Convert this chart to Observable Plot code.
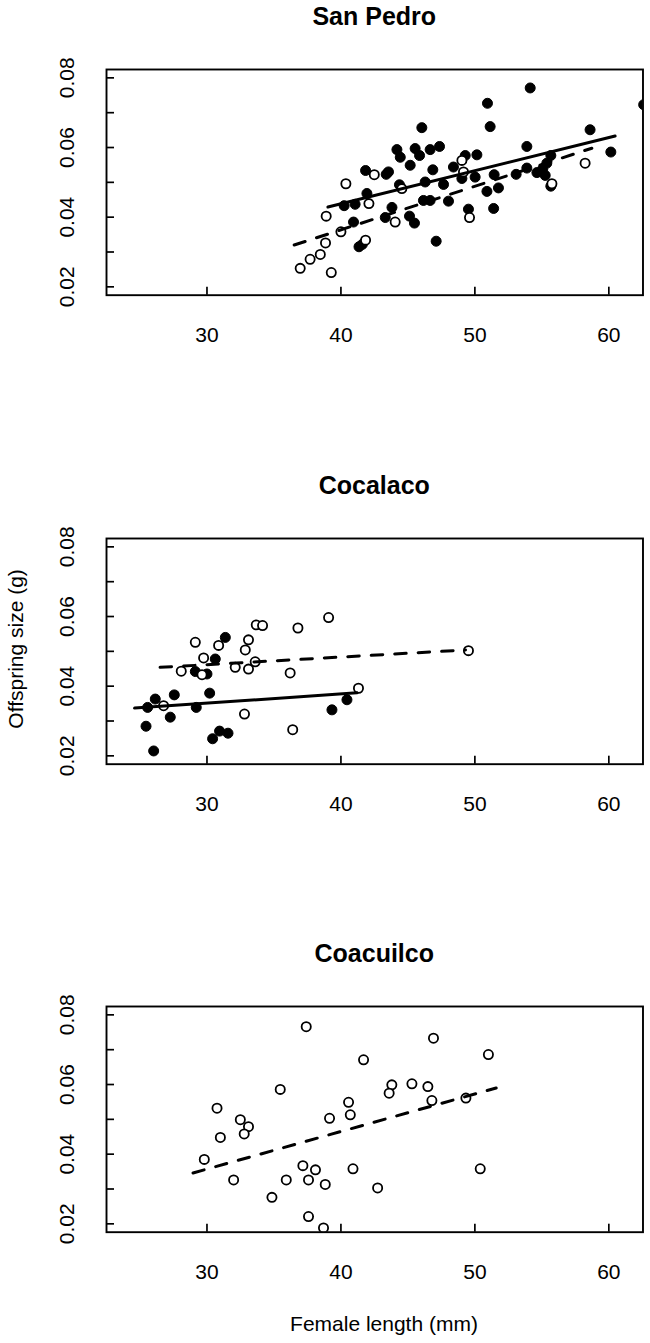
<!DOCTYPE html>
<html>
<head>
<meta charset="utf-8">
<script src="https://cdn.jsdelivr.net/npm/d3@7"></script>
<script src="https://cdn.jsdelivr.net/npm/@observablehq/plot@0.6"></script>
<style>
  html, body { margin: 0; padding: 0; background: #fff; }
  #chart { position: relative; width: 650px; height: 1343px; background: #fff; overflow: hidden;
           font-family: "Liberation Sans", Arial, Helvetica, sans-serif; color: #000; }
  #chart svg { position: absolute; left: 0; }
  .title { position: absolute; font-weight: bold; font-size: 25px; line-height: 25px; white-space: nowrap; transform: translateX(-50%); }
  .lab { position: absolute; font-size: 21px; line-height: 21px; white-space: nowrap; }
</style>
</head>
<body>
<div id="chart"></div>
<script>
// ---------- data ----------
const panelTitles = ["San Pedro", "Cocalaco", "Coacuilco"];
const xLabel = "Female length (mm)";
const yLabel = "Offspring size (g)";
const xTicks = [30, 40, 50, 60];
const yTicks = [0.02, 0.03, 0.04, 0.05, 0.06, 0.07, 0.08];
const yTickLabels = [0.02, 0.04, 0.06, 0.08];

// San Pedro
const sanPedroFilledX = [41.84, 41.94, 40.24, 41.06, 40.94, 41.35, 41.6, 54.13, 50.94, 51.14, 46.04, 62.6, 58.6, 60.15, 53.88, 53.88, 53.08, 54.63, 55.07, 55.37, 55.67, 55.25, 55.67, 51.44, 51.76, 50.9, 51.4, 50.15, 50.02, 49.28, 49.03, 49.52, 48.4, 48.03, 47.66, 47.11, 47.36, 46.66, 46.86, 46.66, 46.16, 46.29, 45.87, 45.54, 45.17, 45.12, 45.49, 44.18, 44.43, 44.37, 43.55, 43.38, 43.81, 43.31];
const sanPedroFilledY = [0.0534, 0.0468, 0.0433, 0.0437, 0.0386, 0.0315, 0.0322, 0.0771, 0.0727, 0.0660, 0.0657, 0.0723, 0.0651, 0.0587, 0.0603, 0.0541, 0.0523, 0.0528, 0.0539, 0.0555, 0.0577, 0.0520, 0.0489, 0.0522, 0.0484, 0.0474, 0.0425, 0.0579, 0.0515, 0.0577, 0.0511, 0.0423, 0.0544, 0.0446, 0.0494, 0.0331, 0.0603, 0.0594, 0.0536, 0.0448, 0.0448, 0.0501, 0.0577, 0.0597, 0.0549, 0.0403, 0.0383, 0.0594, 0.0572, 0.0493, 0.0530, 0.0523, 0.0428, 0.0399];
const sanPedroOpenX = [36.96, 37.7, 38.46, 38.85, 38.9, 39.28, 40.0, 40.37, 41.84, 42.09, 42.49, 44.55, 44.05, 49.03, 49.15, 49.6, 55.75, 58.23];
const sanPedroOpenY = [0.0253, 0.0279, 0.0293, 0.0326, 0.0403, 0.0241, 0.0358, 0.0496, 0.0334, 0.0439, 0.0522, 0.0482, 0.0386, 0.0563, 0.0530, 0.0399, 0.0496, 0.0555];
const sanPedroFitFilledX = [39.03, 60.47];
const sanPedroFitFilledY = [0.0429, 0.0633];
const sanPedroFitOpenX = [36.51, 58.73];
const sanPedroFitOpenY = [0.0320, 0.0598];

// Cocalaco
const cocalacoFilledX = [25.57, 26.14, 25.45, 26.02, 27.26, 27.56, 29.2, 29.13, 30.0, 30.2, 30.62, 31.37, 30.42, 30.94, 31.57, 39.33, 40.45];
const cocalacoFilledY = [0.0339, 0.0363, 0.0285, 0.0214, 0.0311, 0.0375, 0.0339, 0.0442, 0.0435, 0.0380, 0.0478, 0.0540, 0.0249, 0.0271, 0.0265, 0.0332, 0.0361];
const cocalacoOpenX = [29.13, 28.08, 29.75, 29.63, 30.87, 32.11, 32.86, 33.1, 33.1, 33.6, 33.68, 34.15, 26.76, 32.8, 36.21, 36.79, 36.4, 39.08, 49.52, 41.31];
const cocalacoOpenY = [0.0526, 0.0443, 0.0481, 0.0433, 0.0517, 0.0454, 0.0504, 0.0533, 0.0449, 0.0470, 0.0576, 0.0574, 0.0344, 0.0320, 0.0438, 0.0567, 0.0275, 0.0597, 0.0502, 0.0394];
const cocalacoFitFilledX = [24.6, 41.2];
const cocalacoFitFilledY = [0.0337, 0.0381];
const cocalacoFitOpenX = [26.5, 49.3];
const cocalacoFitOpenY = [0.0454, 0.0504];

// Coacuilco
const coacuilcoFilledX = [];
const coacuilcoFilledY = [];
const coacuilcoOpenX = [37.41, 41.69, 35.47, 30.75, 40.57, 40.7, 39.15, 32.49, 33.1, 32.78, 31.0, 29.8, 31.99, 34.85, 35.92, 37.16, 37.58, 38.1, 38.83, 37.58, 38.7, 40.9, 42.74, 46.91, 51.01, 43.8, 43.6, 45.3, 46.49, 46.79, 49.33, 50.4];
const coacuilcoOpenY = [0.0766, 0.0671, 0.0586, 0.0532, 0.0549, 0.0513, 0.0503, 0.0499, 0.0479, 0.0458, 0.0448, 0.0385, 0.0326, 0.0276, 0.0326, 0.0367, 0.0326, 0.0355, 0.0313, 0.0221, 0.0188, 0.0358, 0.0303, 0.0733, 0.0686, 0.0599, 0.0575, 0.0602, 0.0594, 0.0554, 0.0561, 0.0358];
const coacuilcoFitOpenX = [28.96, 51.59];
const coacuilcoFitOpenY = [0.0346, 0.0590];

// ---------- build ----------
const zip = (xs, ys) => xs.map((x, i) => ({x, y: ys[i]}));
const panels = [
  {filled: zip(sanPedroFilledX, sanPedroFilledY), open: zip(sanPedroOpenX, sanPedroOpenY),
   fitFilled: zip(sanPedroFitFilledX, sanPedroFitFilledY), fitOpen: zip(sanPedroFitOpenX, sanPedroFitOpenY)},
  {filled: zip(cocalacoFilledX, cocalacoFilledY), open: zip(cocalacoOpenX, cocalacoOpenY),
   fitFilled: zip(cocalacoFitFilledX, cocalacoFitFilledY), fitOpen: zip(cocalacoFitOpenX, cocalacoFitOpenY)},
  {filled: zip(coacuilcoFilledX, coacuilcoFilledY), open: zip(coacuilcoOpenX, coacuilcoOpenY),
   fitFilled: [], fitOpen: zip(coacuilcoFitOpenX, coacuilcoFitOpenY)}
];

const W = 650, mL = 106, mR = 7.5, mT = 10, mB = 60, frameH = 225.7;
const frameW = W - mL - mR;
const boxTops = [69.3, 537.7, 1006];
const chart = document.getElementById("chart");
const font = "'Liberation Sans', Arial, Helvetica, sans-serif";

panels.forEach((p, i) => {
  const svg = Plot.plot({
    width: W,
    height: mT + frameH + mB,
    marginLeft: mL, marginRight: mR, marginTop: mT, marginBottom: mB,
    style: {fontFamily: font, background: "transparent", overflow: "visible"},
    x: {domain: [22.5, 62.55], axis: null},
    y: {domain: [0.0176, 0.0824], axis: null},
    marks: [
      Plot.dot(p.filled, {x: "x", y: "y", r: 5.0, fill: "black", stroke: "black", strokeWidth: 1, clip: true}),
      Plot.dot(p.open, {x: "x", y: "y", r: 4.6, fill: "white", stroke: "black", strokeWidth: 1.8, clip: true}),
      Plot.line(p.fitFilled, {x: "x", y: "y", stroke: "black", strokeWidth: 3}),
      Plot.line(p.fitOpen, {x: "x", y: "y", stroke: "black", strokeWidth: 3, strokeDasharray: "11.5,12"}),
      Plot.tickX(xTicks, {x: d => d, stroke: "black", strokeWidth: 1.7, insetTop: frameH - 8}),
      Plot.tickY(yTicks, {y: d => d, stroke: "black", strokeWidth: 1.7, insetRight: frameW - 8}),
      Plot.text(xTicks, {x: d => d, text: d => String(d), frameAnchor: "bottom", dy: 40, lineAnchor: "middle", fontSize: 21, fill: "black"}),
      Plot.text(yTickLabels, {y: d => d, text: d => d.toFixed(2), frameAnchor: "left", dx: -39, rotate: -90, textAnchor: "middle", lineAnchor: "middle", fontSize: 21, fill: "black"}),
      Plot.frame({stroke: "black", strokeWidth: 1.9})
    ]
  });
  svg.style.top = (boxTops[i] - mT) + "px";
  chart.appendChild(svg);

  const t = document.createElement("div");
  t.className = "title";
  t.textContent = panelTitles[i];
  t.style.left = (mL + frameW / 2) + "px";
  t.style.top = (boxTops[i] - 52.8 - 12.2) + "px";
  chart.appendChild(t);
});

const yl = document.createElement("div");
yl.className = "lab";
yl.textContent = yLabel;
yl.style.left = "15px";
yl.style.top = "650.5px";
yl.style.transform = "translate(-50%, -60%) rotate(-90deg)";
chart.appendChild(yl);

const xl = document.createElement("div");
xl.className = "lab";
xl.textContent = xLabel;
xl.style.left = "384px";
xl.style.top = "1312.5px";
xl.style.transform = "translateX(-50%)";
chart.appendChild(xl);
</script>
</body>
</html>
